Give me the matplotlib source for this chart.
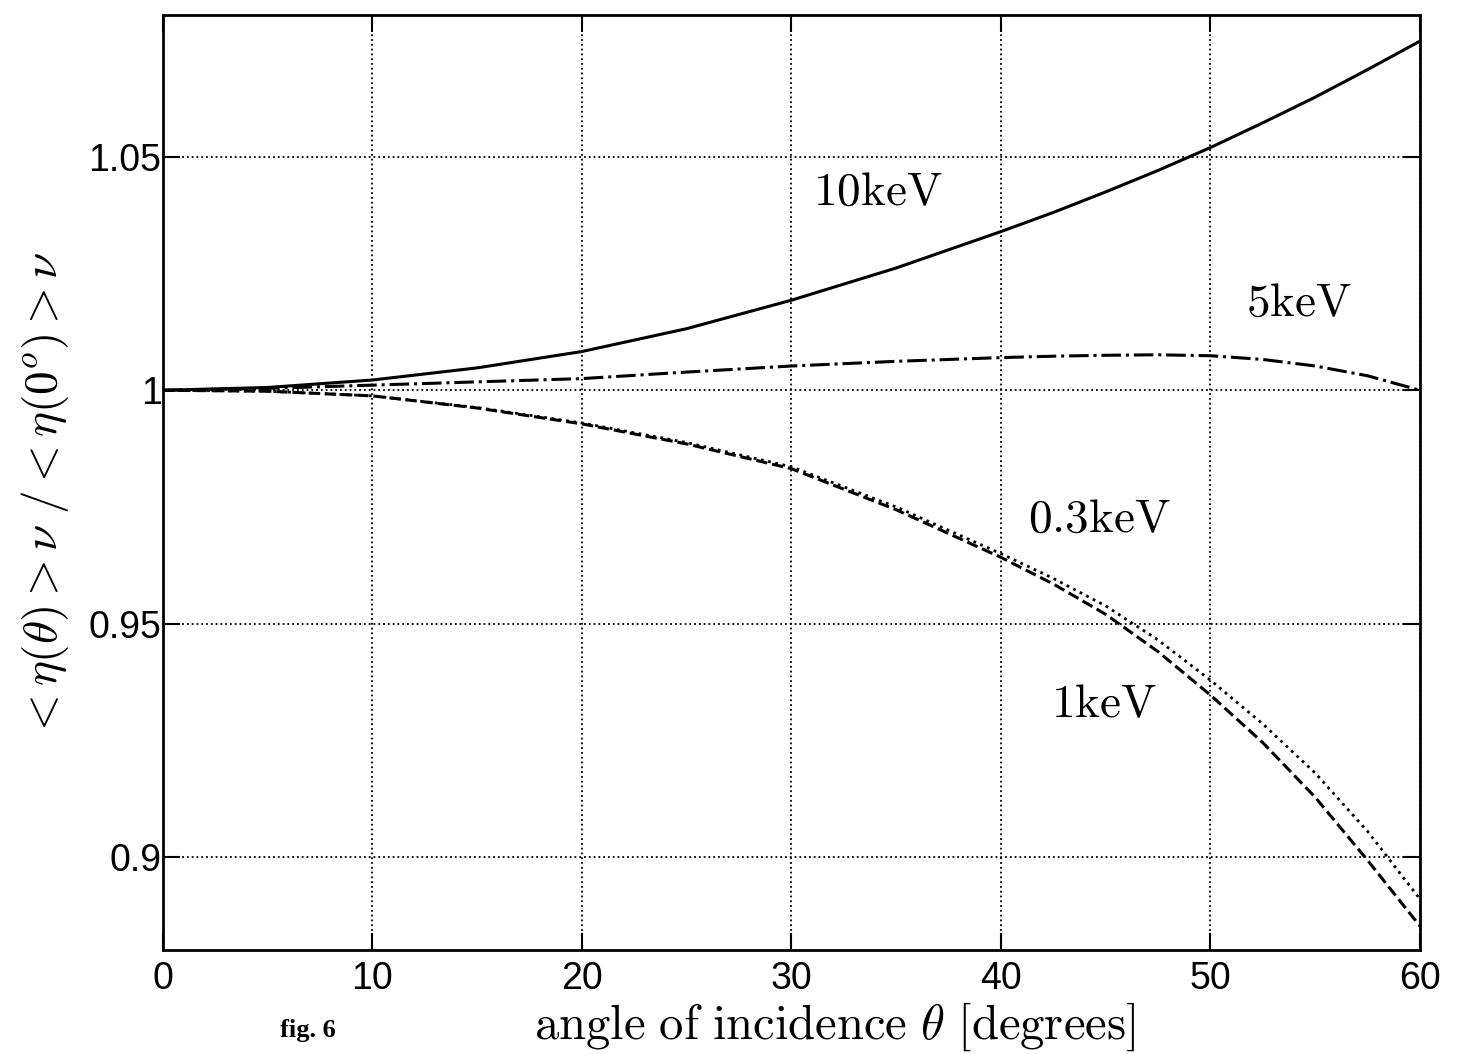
import matplotlib
matplotlib.use('Agg')
import matplotlib.pyplot as plt

plt.rcParams['mathtext.fontset'] = 'cm'
plt.rcParams['font.family'] = ['Liberation Sans', 'DejaVu Sans']

# angle of incidence [degrees]
theta = [0, 5, 10, 15, 20, 25, 30, 35, 40, 42.5, 45, 47.5, 50, 52.5, 55, 57.5, 60]

# normalised efficiency
eta_10kev = [1.0, 1.0006, 1.0022, 1.0048, 1.0083, 1.0132, 1.0193, 1.0262, 1.0340,
             1.0381, 1.0425, 1.0471, 1.0520, 1.0573, 1.0628, 1.0687, 1.0748]
eta_5kev = [1.0, 1.0004, 1.0011, 1.0018, 1.0025, 1.0039, 1.0052, 1.0062, 1.0070,
            1.0073, 1.0075, 1.0076, 1.0074, 1.0066, 1.0052, 1.0031, 1.0000]
eta_03kev = [1.0, 0.9998, 0.9988, 0.9963, 0.9930, 0.9888, 0.9836, 0.9750, 0.9650,
             0.9597, 0.9538, 0.9465, 0.9379, 0.9285, 0.9180, 0.9055, 0.8910]
eta_1kev = [1.0, 0.9998, 0.9988, 0.9962, 0.9928, 0.9885, 0.9832, 0.9744, 0.9642,
            0.9585, 0.9520, 0.9440, 0.9347, 0.9245, 0.9128, 0.8993, 0.8852]

fig = plt.figure(figsize=(14.6, 10.54), dpi=100)
ax = fig.add_axes([0.1116, 0.0987, 0.8610, 0.8871])

ax.plot(theta, eta_10kev, color='black', linestyle='-', linewidth=2.2)
ax.plot(theta, eta_5kev, color='black', linestyle='-.', linewidth=2.2)
ax.plot(theta, eta_03kev, color='black', linestyle=':', linewidth=2.0)
ax.plot(theta, eta_1kev, color='black', linestyle='--', linewidth=2.2)

ax.set_xlim(0, 60)
ax.set_ylim(0.8801, 1.0804)
ax.set_xticks([0, 10, 20, 30, 40, 50, 60])
ax.set_yticks([0.9, 0.95, 1.0, 1.05])
ax.set_yticklabels(['0.9', '0.95', '1', '1.05'])
ax.grid(True, color='black', linestyle=':', linewidth=1.3)
ax.tick_params(direction='in', length=12, width=1.5, labelsize=27,
               top=True, right=True)
ax.tick_params(axis='y', pad=1)
ax.tick_params(axis='x', pad=8)
for s in ax.spines.values():
    s.set_linewidth(2.0)

lab = dict(fontsize=34, ha='center', va='center')
ax.text(34.1, 1.0424, r'$\mathrm{10keV}$', **lab)
ax.text(54.2, 1.0186, r'$\mathrm{5keV}$', **lab)
ax.text(44.7, 0.9722, r'$\mathrm{0.3keV}$', **lab)
ax.text(44.9, 0.9325, r'$\mathrm{1keV}$', **lab)

ax.set_xlabel(r'$\mathrm{angle\ of\ incidence}\ \theta\ \mathrm{[degrees]}$',
              fontsize=35, va='center')
ax.xaxis.set_label_coords(0.5346, -0.0824)
ax.set_ylabel(r'$<\eta(\theta)>\nu\ /<\eta(0^o)>\nu$', fontsize=34,
              va='center')
ax.yaxis.set_label_coords(-0.0939, 0.4866)

fig.text(0.211, 0.022, 'fig. 6', fontsize=19, fontweight='bold',
         family='Liberation Serif', ha='center', va='center')

fig.savefig('out.png', dpi=100)
